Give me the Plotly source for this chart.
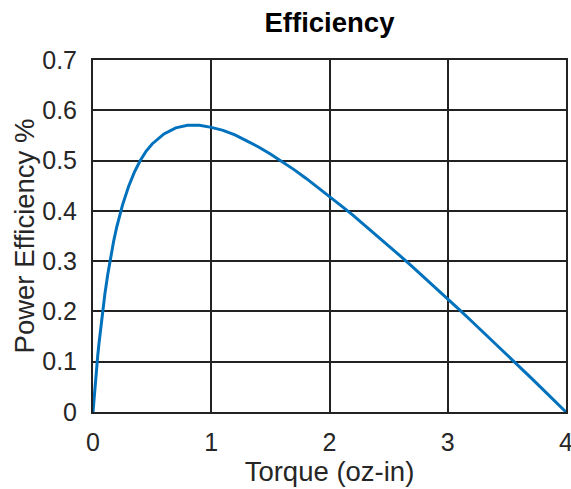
import plotly.graph_objects as go

# Data
torque = [0, 0.005, 0.01, 0.02, 0.03, 0.04, 0.05, 0.06, 0.075, 0.09, 0.1, 0.125,
          0.15, 0.175, 0.2, 0.25, 0.3, 0.35, 0.4, 0.45, 0.5, 0.6, 0.7, 0.8, 0.9,
          1.0, 1.1, 1.2, 1.3, 1.4, 1.5, 1.6, 1.7, 1.8, 1.9, 2.0, 2.1, 2.2, 2.3,
          2.4, 2.5, 2.6, 2.7, 2.8, 2.9, 3.0, 3.1, 3.2, 3.3, 3.4, 3.5, 3.6, 3.7,
          3.8, 3.9, 4.0]
efficiency = [0, 0.016, 0.031, 0.060, 0.087, 0.112, 0.135, 0.157, 0.188, 0.216,
              0.234, 0.274, 0.309, 0.340, 0.367, 0.412, 0.448, 0.477, 0.500,
              0.519, 0.533, 0.553, 0.565, 0.570, 0.570, 0.566, 0.560, 0.551,
              0.539, 0.527, 0.513, 0.498, 0.482, 0.465, 0.447, 0.429, 0.410,
              0.391, 0.371, 0.351, 0.331, 0.310, 0.289, 0.268, 0.246, 0.225,
              0.203, 0.181, 0.159, 0.136, 0.114, 0.091, 0.069, 0.046, 0.023, 0]
x_ticks = [0, 1, 2, 3, 4]
y_ticks = [0, 0.1, 0.2, 0.3, 0.4, 0.5, 0.6, 0.7]
y_tick_labels = ["0", "0.1", "0.2", "0.3", "0.4", "0.5", "0.6", "0.7"]

FONT = "Liberation Sans, Arial, Helvetica, sans-serif"

fig = go.Figure()
fig.add_trace(go.Scatter(
    x=torque, y=efficiency, mode="lines",
    line=dict(color="#0072BD", width=3),
    showlegend=False, hoverinfo="skip",
))

fig.update_layout(
    width=571, height=489,
    margin=dict(l=93, r=5, t=60, b=77, autoexpand=False),
    paper_bgcolor="white", plot_bgcolor="white",
    font=dict(family=FONT, size=25, color="#262626"),
    title=dict(text="<b>Efficiency</b>", x=(93 + 566) / 2 / 571, xanchor="center",
               y=1 - 22 / 489, yanchor="middle",
               font=dict(family=FONT, size=27.5, color="black")),
)
fig.update_xaxes(
    range=[0, 4], tickvals=x_ticks, ticktext=[str(t) for t in x_ticks],
    showgrid=True, gridcolor="#222222", gridwidth=2,
    showline=True, mirror=True, linecolor="#222222", linewidth=2,
    zeroline=False, ticks="", ticklabelstandoff=7, automargin=False,
    ticklabeloverflow="allow",
    title=dict(text="Torque (oz-in)", font=dict(family=FONT, size=27.5, color="#262626"),
               standoff=0),
)
fig.update_yaxes(
    range=[0, 0.7], tickvals=y_ticks, ticktext=y_tick_labels,
    showgrid=True, gridcolor="#222222", gridwidth=2,
    showline=True, mirror=True, linecolor="#222222", linewidth=2,
    zeroline=False, ticks="", ticklabelstandoff=9, automargin=False,
    title=dict(text="Power Efficiency %", font=dict(family=FONT, size=27.5, color="#262626"),
               standoff=0),
)

fig.write_html("out.html", config={"displayModeBar": False},
               post_script="document.body.style.margin='0';document.body.style.padding='0';")
